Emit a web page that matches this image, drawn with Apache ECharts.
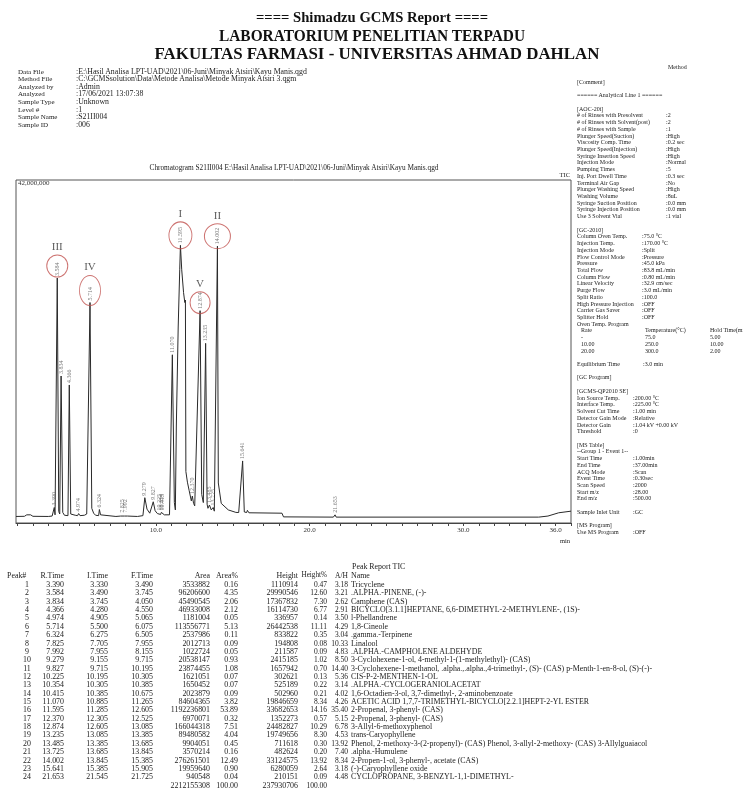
<!DOCTYPE html>
<html>
<head>
<meta charset="utf-8">
<script src="https://cdn.jsdelivr.net/npm/echarts@6/dist/echarts.min.js"></script>
<style>
html, body { margin: 0; padding: 0; background: #fff; }
#page { position: relative; width: 743px; height: 793px; overflow: hidden; background: #fff; }
#chart { position: absolute; left: 0; top: 0; width: 743px; height: 793px; }
#text { position: absolute; left: 0; top: 0; width: 743px; height: 793px; pointer-events: none; }
.t { position: absolute; white-space: nowrap; line-height: 1; font-family: 'Liberation Serif', 'Times New Roman', serif; color: #222; }
</style>
</head>
<body>
<div id="page"><div id="chart"></div><div id="text"></div></div>
<script>
// ---------- report header ----------
const reportTitle = [
  '==== Shimadzu GCMS Report ====',
  'LABORATORIUM PENELITIAN TERPADU',
  'FAKULTAS FARMASI - UNIVERSITAS AHMAD DAHLAN'
];
const infoLabels = ['Data File', 'Method File', 'Analyzed by', 'Analyzed', 'Sample Type', 'Level #', 'Sample Name', 'Sample ID'];
const infoValues = [
  'E:\\Hasil Analisa LPT-UAD\\2021\\06-Juni\\Minyak Atsiri\\Kayu Manis.qgd',
  'C:\\GCMSsolution\\Data\\Metode Analisa\\Metode Minyak Atsiri 3.qgm',
  'Admin',
  '17/06/2021 13:07:38',
  'Unknown',
  '1',
  'S21II004',
  '006'
];
const chromTitle = 'Chromatogram S21II004 E:\\Hasil Analisa LPT-UAD\\2021\\06-Juni\\Minyak Atsiri\\Kayu Manis.qgd';

// ---------- method panel ----------
const aocRows = [
  ['# of Rinses with Presolvent', ':2'],
  ['# of Rinses with Solvent(post)', ':2'],
  ['# of Rinses with Sample', ':1'],
  ['Plunger Speed(Suction)', ':High'],
  ['Viscosity Comp. Time', ':0.2 sec'],
  ['Plunger Speed(Injection)', ':High'],
  ['Syringe Insertion Speed', ':High'],
  ['Injection Mode', ':Normal'],
  ['Pumping Times', ':5'],
  ['Inj. Port Dwell Time', ':0.3 sec'],
  ['Terminal Air Gap', ':No'],
  ['Plunger Washing Speed', ':High'],
  ['Washing Volume', ':8uL'],
  ['Syringe Suction Position', ':0.0 mm'],
  ['Syringe Injection Position', ':0.0 mm'],
  ['Use 3 Solvent Vial', ':1 vial']
];
const gcRows = [
  ['Column Oven Temp.', ':75.0 °C'],
  ['Injection Temp.', ':170.00 °C'],
  ['Injection Mode', ':Split'],
  ['Flow Control Mode', ':Pressure'],
  ['Pressure', ':45.0 kPa'],
  ['Total Flow', ':83.8 mL/min'],
  ['Column Flow', ':0.80 mL/min'],
  ['Linear Velocity', ':32.9 cm/sec'],
  ['Purge Flow', ':3.0 mL/min'],
  ['Split Ratio', ':100.0'],
  ['High Pressure Injection', ':OFF'],
  ['Carrier Gas Saver', ':OFF'],
  ['Splitter Hold', ':OFF'],
  ['Oven Temp. Program', '']
];
const ovenHead = ['Rate', 'Temperature(°C)', 'Hold Time(min)'];
const ovenRows = [['-', '75.0', '5.00'], ['10.00', '250.0', '10.00'], ['20.00', '300.0', '2.00']];
const equilRow = ['Equilibrium Time', ':3.0 min'];
const msRows = [
  ['Ion Source Temp.', ':200.00 °C'],
  ['Interface Temp.', ':225.00 °C'],
  ['Solvent Cut Time', ':1.00 min'],
  ['Detector Gain Mode', ':Relative'],
  ['Detector Gain', ':1.04 kV +0.00 kV'],
  ['Threshold', ':0']
];
const msTableRows = [
  ['Start Time', ':1.00min'],
  ['End Time', ':37.00min'],
  ['ACQ Mode', ':Scan'],
  ['Event Time', ':0.30sec'],
  ['Scan Speed', ':2000'],
  ['Start m/z', ':28.00'],
  ['End m/z', ':500.00']
];
const inletRow = ['Sample Inlet Unit', ':GC'];
const msProgramRow = ['Use MS Program', ':OFF'];

// ---------- peak report ----------
const tableHead = ['Peak#', 'R.Time', 'I.Time', 'F.Time', 'Area', 'Area%', 'Height', 'Height%', 'A/H', 'Name'];
const peakNo    = [1,2,3,4,5,6,7,8,9,10,11,12,13,14,15,16,17,18,19,20,21,22,23,24];
const retTime   = [3.390,3.584,3.834,4.366,4.974,5.714,6.324,7.825,7.992,9.279,9.827,10.225,10.354,10.415,11.070,11.595,12.370,12.874,13.235,13.485,13.725,14.002,15.641,21.653];
const startTime = [3.330,3.490,3.745,4.280,4.905,5.500,6.275,7.705,7.955,9.155,9.715,10.195,10.305,10.385,10.885,11.285,12.305,12.605,13.085,13.385,13.685,13.845,15.385,21.545];
const endTime   = [3.490,3.745,4.050,4.550,5.065,6.075,6.505,7.955,8.155,9.715,10.195,10.305,10.385,10.675,11.265,12.605,12.525,13.085,13.385,13.685,13.845,15.385,15.905,21.725];
const areas     = [3533882,96206600,45490545,46933008,1181004,113556771,2537986,2012713,1022724,20538147,23874455,1621051,1650452,2023879,84604365,1192236801,6970071,166044318,89480582,9904051,3570214,276261501,19959640,940548];
const areaPct   = ['0.16','4.35','2.06','2.12','0.05','5.13','0.11','0.09','0.05','0.93','1.08','0.07','0.07','0.09','3.82','53.89','0.32','7.51','4.04','0.45','0.16','12.49','0.90','0.04'];
const heights   = [1110914,29990546,17367832,16114730,336957,26442538,833822,194808,211587,2415185,1657942,302621,525189,502960,19846659,33682653,1352273,24482827,19749656,711618,482624,33124575,6280059,210151];
const heightPct = ['0.47','12.60','7.30','6.77','0.14','11.11','0.35','0.08','0.09','1.02','0.70','0.13','0.22','0.21','8.34','14.16','0.57','10.29','8.30','0.30','0.20','13.92','2.64','0.09'];
const areaHeight = ['3.18','3.21','2.62','2.91','3.50','4.29','3.04','10.33','4.83','8.50','14.40','5.36','3.14','4.02','4.26','35.40','5.15','6.78','4.53','13.92','7.40','8.34','3.18','4.48'];
const compoundNames = [
  'Tricyclene',
  '.ALPHA.-PINENE, (-)-',
  'Camphene (CAS)',
  'BICYCLO[3.1.1]HEPTANE, 6,6-DIMETHYL-2-METHYLENE-, (1S)-',
  'l-Phellandrene',
  '1,8-Cineole',
  '.gamma.-Terpinene',
  'Linalool',
  '.ALPHA.-CAMPHOLENE ALDEHYDE',
  '3-Cyclohexene-1-ol, 4-methyl-1-(1-methylethyl)- (CAS)',
  '3-Cyclohexene-1-methanol, .alpha.,.alpha.,4-trimethyl-, (S)- (CAS) p-Menth-1-en-8-ol, (S)-(-)-',
  'CIS-P-2-MENTHEN-1-OL',
  '.ALPHA.-CYCLOGERANIOLACETAT',
  '1,6-Octadien-3-ol, 3,7-dimethyl-, 2-aminobenzoate',
  'ACETIC ACID 1,7,7-TRIMETHYL-BICYCLO[2.2.1]HEPT-2-YL ESTER',
  '2-Propenal, 3-phenyl- (CAS)',
  '2-Propenal, 3-phenyl- (CAS)',
  '3-Allyl-6-methoxyphenol',
  'trans-Caryophyllene',
  'Phenol, 2-methoxy-3-(2-propenyl)- (CAS) Phenol, 3-allyl-2-methoxy- (CAS) 3-Allylguaiacol',
  '.alpha.-Humulene',
  '2-Propen-1-ol, 3-phenyl-, acetate (CAS)',
  '(-)-Caryophyllene oxide',
  'CYCLOPROPANE, 3-BENZYL-1,1-DIMETHYL-'
];
const totalArea = 2212155308;
const totalHeight = 237930706;

// ---------- TIC trace: [retention time (min), intensity (millions of counts)] ----------
const tracePoints = [
  [0.90,0.80],[1.45,0.82],[1.60,1.00],[1.85,1.00],[2.00,0.82],[3.00,0.80],
  [3.25,0.85],[3.33,0.95],[3.390,1.90],[3.44,1.00],[3.490,0.95],
  [3.584,30.0],[3.68,1.40],[3.745,1.10],
  [3.834,18.0],[3.94,1.30],[4.050,0.95],[4.15,1.05],[4.280,0.90],
  [4.366,16.9],[4.46,1.10],[4.550,0.90],[4.75,0.95],[4.905,0.90],
  [4.974,1.15],[5.065,0.90],[5.35,0.95],[5.500,1.10],
  [5.714,27.0],[5.83,1.80],[5.95,1.20],[6.075,0.95],[6.275,0.90],
  [6.324,1.65],[6.40,1.00],[6.505,0.85],[7.40,0.80],[7.705,0.85],
  [7.825,1.00],[7.955,0.85],[7.992,1.00],[8.155,0.85],[8.80,0.80],[9.155,0.90],
  [9.279,3.10],[9.42,1.70],[9.60,1.20],[9.715,1.05],
  [9.827,2.60],[9.95,1.50],[10.10,1.15],[10.195,1.05],
  [10.225,1.30],[10.305,1.05],[10.354,1.30],[10.385,1.10],[10.415,1.30],[10.55,1.00],[10.675,0.95],[10.885,1.00],
  [11.070,20.6],[11.20,2.50],[11.265,1.60],
  [11.33,12.0],[11.45,24.0],[11.55,31.0],[11.595,34.0],[11.68,31.0],[11.80,28.2],[11.88,27.0],[11.92,27.3],
  [11.95,6.3],[12.05,5.0],[12.16,4.0],[12.305,2.7],[12.370,3.3],[12.45,2.4],[12.525,2.1],[12.605,1.9],
  [12.874,26.0],[12.98,3.5],[13.085,2.5],
  [13.235,22.0],[13.33,2.3],[13.385,1.8],
  [13.485,2.2],[13.60,1.6],[13.685,1.45],
  [13.725,1.90],[13.80,1.45],[13.845,1.40],
  [14.002,33.9],[14.06,4.9],[14.25,2.4],[14.71,1.6],[15.20,1.3],[15.385,1.28],
  [15.641,7.6],[15.75,1.35],[15.905,1.28],[15.95,1.55],[16.05,1.25],[18.20,1.20],[18.30,0.75],[21.545,0.72],
  [21.653,1.00],[21.725,0.72],[34.90,0.72],[35.50,0.85],[36.20,1.25],[37.00,1.45]
];
const timeAxisLabels = [10, 20, 30, 36];
const minuteTicks = [1,2,3,4,5,6,7,8,9,10,11,12,13,14,15,16,17,18,19,20,21,22,23,24,25,26,27,28,29,30,31,32,33,34,35,36,37];
const timeRange = [0.9, 37];
const intensityTop = 42;           // millions of counts at the top of the frame
const markedPeakNo = [16, 22, 2, 6, 18];
const markedPeakTag = ['I', 'II', 'III', 'IV', 'V'];

// ---------- text layer ----------
const layer = document.getElementById('text');
function put(text, x, y, o) {
  o = o || {};
  const d = document.createElement('div');
  d.className = 't';
  d.textContent = text;
  d.style.left = x + 'px';
  d.style.top = y + 'px';
  d.style.fontSize = (o.size || 7) + 'px';
  if (o.bold) d.style.fontWeight = 'bold';
  if (o.color) d.style.color = o.color;
  const tx = o.align === 'right' ? '-100%' : o.align === 'center' ? '-50%' : '0';
  layer.appendChild(d);
  let tf = 'translate(' + tx + ', -50%)';
  if (o.width) {
    const w = d.getBoundingClientRect().width;
    tf += ' scaleX(' + (o.width / w).toFixed(3) + ')';
    d.style.transformOrigin = o.align === 'right' ? 'right center' : o.align === 'center' ? 'center center' : 'left center';
  }
  d.style.transform = tf;
  return d;
}

// header
put(reportTitle[0], 372, 17, { size: 15, bold: true, align: 'center', width: 232, color: '#111' });
put(reportTitle[1], 372, 35, { size: 17, bold: true, align: 'center', width: 306, color: '#111' });
put(reportTitle[2], 377, 53, { size: 17, bold: true, align: 'center', width: 445, color: '#111' });

// sample information
infoLabels.forEach((s, i) => {
  const y = 71.5 + i * 7.6;
  put(s, 18, y, { size: 7 });
  put(':' + infoValues[i], 76, y, { size: 7.8 });
});

// method panel
put('Method', 668, 67, { size: 6 });
let line = 0;
const lineY = i => 81.8 + i * 6.72;
const PX = 577, PS = 6;
function textLine(s) { put(s, PX, lineY(line), { size: PS }); line++; }
function rowLine(r, vx) { put(r[0], PX, lineY(line), { size: PS }); if (r[1]) put(r[1], vx, lineY(line), { size: PS }); line++; }
function blank() { line++; }
textLine('[Comment]'); blank();
textLine('====== Analytical Line 1 ======'); blank();
textLine('[AOC-20i]');
aocRows.forEach(r => rowLine(r, 666));
blank();
textLine('[GC-2010]');
gcRows.forEach(r => rowLine(r, 642));
[ovenHead].concat(ovenRows).forEach(r => {
  put(r[0], 581, lineY(line), { size: PS });
  put(r[1], 645, lineY(line), { size: PS });
  put(r[2], 710, lineY(line), { size: PS });
  line++;
});
blank();
rowLine(equilRow, 643); blank();
textLine('[GC Program]'); blank();
textLine('[GCMS-QP2010 SE]');
msRows.forEach(r => rowLine(r, 633));
blank();
textLine('[MS Table]');
textLine('--Group 1 - Event 1--');
msTableRows.forEach(r => rowLine(r, 633));
blank();
rowLine(inletRow, 633); blank();
textLine('[MS Program]');
rowLine(msProgramRow, 633);

// chromatogram captions
put(chromTitle, 294, 168, { size: 7.3, align: 'center' });
put('TIC', 570, 175, { size: 6.5, align: 'right' });
put('min', 560, 541, { size: 6.5 });

// peak report table
const TS = 7.9, NS = 7.5;
const rowY = i => 585 + i * 8.36;
put('Peak Report TIC', 352, 567, { size: TS });
const colRight = [null, 64, 108, 153, 210, 238, 298, 327, 348];
const headSize = [TS, TS, TS, TS, TS, TS, TS, 7.2, NS];
put(tableHead[0], 7, 576, { size: TS });
for (let c = 1; c <= 8; c++) put(tableHead[c], colRight[c], 576, { size: headSize[c], align: 'right' });
put(tableHead[9], 351, 576, { size: TS });
peakNo.forEach((n, i) => {
  const y = rowY(i);
  put(String(n), 27, y, { size: TS, align: 'center' });
  put(retTime[i].toFixed(3), colRight[1], y, { size: TS, align: 'right' });
  put(startTime[i].toFixed(3), colRight[2], y, { size: TS, align: 'right' });
  put(endTime[i].toFixed(3), colRight[3], y, { size: TS, align: 'right' });
  put(String(areas[i]), colRight[4], y, { size: TS, align: 'right' });
  put(areaPct[i], colRight[5], y, { size: TS, align: 'right' });
  put(String(heights[i]), colRight[6], y, { size: TS, align: 'right' });
  put(heightPct[i], colRight[7], y, { size: NS, align: 'right' });
  put(areaHeight[i], colRight[8], y, { size: NS, align: 'right' });
  put(compoundNames[i], 351, y, { size: TS });
});
const yTot = rowY(peakNo.length);
put(String(totalArea), colRight[4], yTot, { size: TS, align: 'right' });
put('100.00', colRight[5], yTot, { size: TS, align: 'right' });
put(String(totalHeight), colRight[6], yTot, { size: TS, align: 'right' });
put('100.00', colRight[7], yTot, { size: NS, align: 'right' });

// ---------- chromatogram ----------
const apexOf = t => tracePoints.find(p => p[0] === t)[1];
const serif = "'Liberation Serif', 'Times New Roman', serif";
const ringSize = [[23, 27], [26, 25], [21, 22], [21, 30], [20, 22]];
const ringShift = [-10, -10, -12, -12, -8];

const chart = echarts.init(document.getElementById('chart'));
chart.setOption({
  animation: false,
  backgroundColor: 'transparent',
  grid: { left: 16, right: 172, top: 180, bottom: 270, show: true, borderColor: '#555', borderWidth: 1, backgroundColor: 'transparent' },
  xAxis: {
    type: 'value', min: timeRange[0], max: timeRange[1],
    axisLine: { show: true, lineStyle: { color: '#444', width: 1 } },
    axisTick: { show: true, length: 3, customValues: minuteTicks, lineStyle: { color: '#444' } },
    splitLine: { show: false },
    axisLabel: {
      customValues: timeAxisLabels,
      formatter: v => Number(v).toFixed(1),
      fontFamily: serif, fontSize: 7, color: '#333', margin: 4
    }
  },
  yAxis: {
    type: 'value', min: 0, max: intensityTop, interval: intensityTop,
    axisLine: { show: false }, axisTick: { show: false }, splitLine: { show: false },
    axisLabel: {
      inside: true, margin: 2, verticalAlign: 'top',
      formatter: v => v === intensityTop ? (v * 1e6).toLocaleString('en-US') : '',
      fontFamily: serif, fontSize: 7, color: '#333'
    }
  },
  series: [
    {
      type: 'line', data: tracePoints, showSymbol: false, symbol: 'none',
      lineStyle: { color: '#2a2a2a', width: 1 }, silent: true, z: 2
    },
    {
      type: 'scatter', symbolSize: 0, silent: true, z: 3,
      data: retTime.map(t => [t, apexOf(t), t.toFixed(3)]),
      label: {
        show: true, position: 'top', distance: 2, rotate: 90,
        align: 'left', verticalAlign: 'middle',
        formatter: p => p.value[2],
        fontFamily: serif, fontSize: 6, color: '#555'
      }
    },
    {
      type: 'scatter', silent: true, z: 4,
      data: markedPeakNo.map((n, k) => {
        const t = retTime[n - 1];
        return {
          value: [t, apexOf(t)],
          symbolSize: ringSize[k],
          symbolOffset: [0, ringShift[k]],
          label: { formatter: markedPeakTag[k] }
        };
      }),
      symbol: 'circle',
      itemStyle: { color: 'rgba(0,0,0,0)', borderColor: '#c0504d', borderWidth: 1 },
      label: {
        show: true, position: 'top', distance: 2,
        fontFamily: serif, fontSize: 11, color: '#333'
      }
    }
  ]
});
</script>
</body>
</html>
